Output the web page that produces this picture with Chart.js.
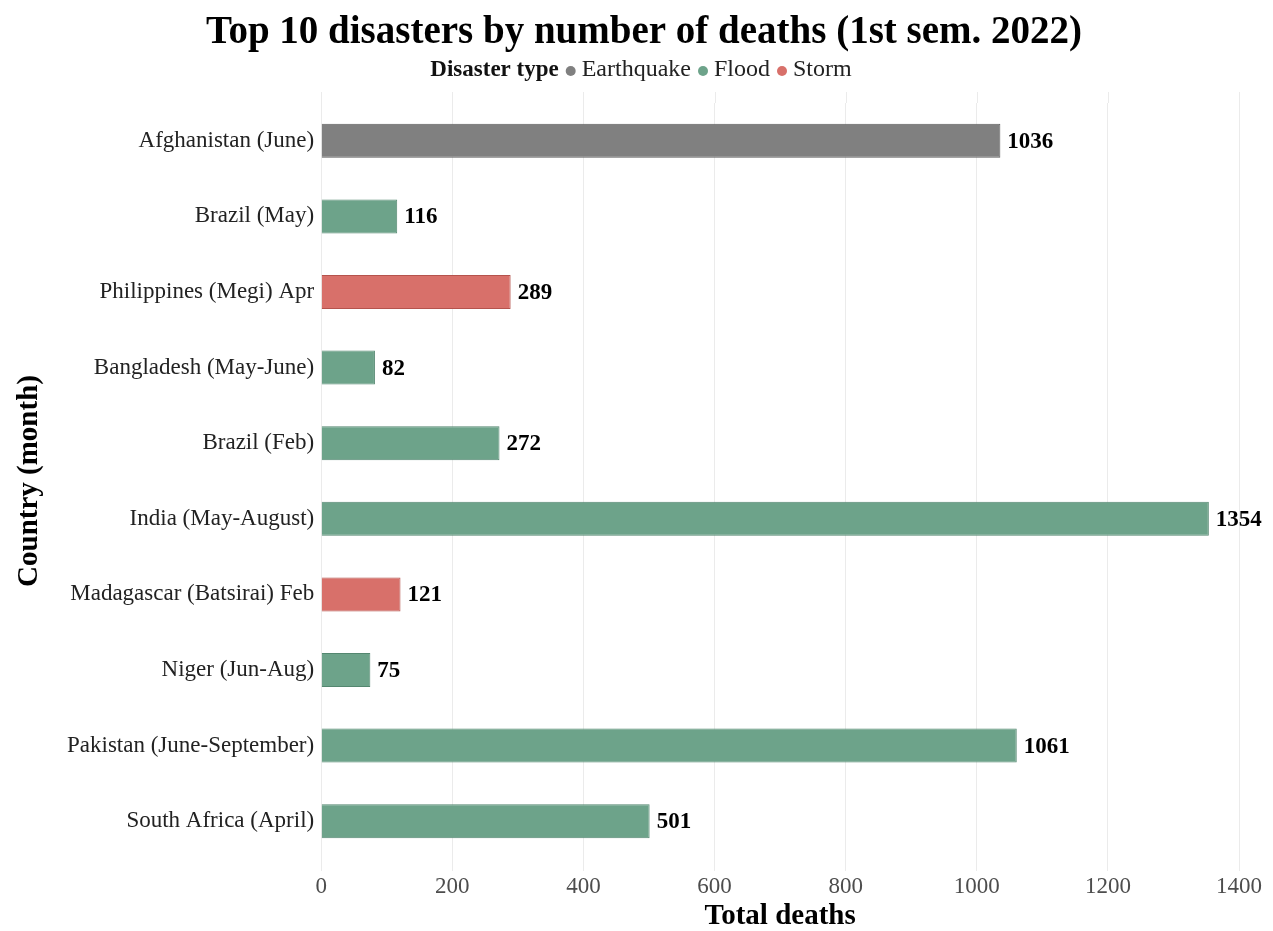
<!DOCTYPE html>
<html>
<head>
<meta charset="utf-8">
<script src="https://cdn.jsdelivr.net/npm/chart.js@4"></script>
<style>
  html, body { margin: 0; padding: 0; background: #fff; }
  #wrap { width: 1273px; height: 931px; position: relative; }
</style>
</head>
<body>
<div id="wrap"><canvas id="c" width="1273" height="931"></canvas></div>
<script>
// Disasters of the first half of 2022, ranked by total deaths
const categories = [
  'Afghanistan (June)',
  'Brazil (May)',
  'Philippines (Megi) Apr',
  'Bangladesh (May-June)',
  'Brazil (Feb)',
  'India (May-August)',
  'Madagascar (Batsirai) Feb',
  'Niger (Jun-Aug)',
  'Pakistan (June-September)',
  'South Africa (April)'
];
const deaths = [1036, 116, 289, 82, 272, 1354, 121, 75, 1061, 501];
const disasterTypes = ['Earthquake', 'Flood', 'Storm', 'Flood', 'Flood', 'Flood', 'Storm', 'Flood', 'Flood', 'Flood'];
const typeOrder = ['Earthquake', 'Flood', 'Storm'];
const xTicks = [0, 200, 400, 600, 800, 1000, 1200, 1400];
const chartTitle = 'Top 10 disasters by number of deaths (1st sem. 2022)';

const typeFill = { Earthquake: '#808080', Flood: '#6da38a', Storm: '#d8706a' };
const typeEdge = { Earthquake: '#5e5e5e', Flood: '#548770', Storm: '#b5534d' };
const SERIF = '"Liberation Serif", "Times New Roman", serif';

// Heading block: title line, then an inline legend (bold heading + dot/label pairs)
const headerBlock = {
  id: 'headerBlock',
  afterDraw(chart) {
    const ctx = chart.ctx;
    const cx = 644;
    ctx.save();
    ctx.textBaseline = 'middle';

    ctx.font = 'bold 39px ' + SERIF;
    ctx.fillStyle = '#000';
    ctx.textAlign = 'center';
    ctx.fillText(chartTitle, cx, 33);
    ctx.textAlign = 'left';

    const y = 70;
    const head = 'Disaster type';
    const headFont = 'bold 23px ' + SERIF;
    const itemFont = '24px ' + SERIF;
    const dotR = 5, beforeDot = 7, afterDot = 6;
    ctx.font = headFont;
    const headW = ctx.measureText(head).width;
    ctx.font = itemFont;
    let total = headW;
    typeOrder.forEach(t => { total += beforeDot + dotR * 2 + afterDot + ctx.measureText(t).width; });
    let x = 641 - total / 2;
    ctx.fillStyle = '#111';
    ctx.font = headFont;
    ctx.fillText(head, x, y);
    x += headW;
    ctx.font = itemFont;
    typeOrder.forEach(t => {
      x += beforeDot;
      ctx.beginPath();
      ctx.arc(x + dotR, y + 1, dotR, 0, Math.PI * 2);
      ctx.fillStyle = typeFill[t];
      ctx.fill();
      x += dotR * 2 + afterDot;
      ctx.fillStyle = '#222';
      ctx.fillText(t, x, y);
      x += ctx.measureText(t).width;
    });
    ctx.restore();
  }
};

// Vertical grid lines reach a little beyond the category bands
const gridExtend = {
  id: 'gridExtend',
  beforeDatasetsDraw(chart) {
    const ctx = chart.ctx, xs = chart.scales.x, area = chart.chartArea;
    ctx.save();
    ctx.strokeStyle = '#ebebeb';
    ctx.lineWidth = 1;
    xTicks.forEach(v => {
      const px = Math.round(xs.getPixelForValue(v)) + 0.5;
      ctx.beginPath();
      ctx.moveTo(px, area.top - 11);
      ctx.lineTo(px, area.top);
      ctx.stroke();
    });
    ctx.restore();
  }
};

// Value labels at the end of each bar
const valueLabels = {
  id: 'valueLabels',
  afterDatasetsDraw(chart) {
    const ctx = chart.ctx;
    const meta = chart.getDatasetMeta(0);
    ctx.save();
    ctx.font = 'bold 23px ' + SERIF;
    ctx.fillStyle = '#000';
    ctx.textBaseline = 'middle';
    ctx.textAlign = 'left';
    meta.data.forEach((bar, i) => {
      ctx.fillText(String(deaths[i]), bar.x + 7, bar.y + 1);
    });
    ctx.restore();
  }
};

new Chart(document.getElementById('c'), {
  type: 'bar',
  data: {
    labels: categories,
    datasets: [{
      data: deaths,
      backgroundColor: disasterTypes.map(t => typeFill[t]),
      borderColor: disasterTypes.map(t => typeEdge[t]),
      borderWidth: 1,
      categoryPercentage: 1,
      barPercentage: 0.45
    }]
  },
  options: {
    indexAxis: 'y',
    responsive: false,
    animation: false,
    layout: { padding: { left: 15, right: 34, top: 103, bottom: 0 } },
    plugins: {
      legend: { display: false },
      tooltip: { enabled: false },
      title: { display: false }
    },
    scales: {
      x: {
        min: 0,
        max: 1400,
        afterBuildTicks(scale) { scale.ticks = xTicks.map(v => ({ value: v })); },
        grid: { color: '#ebebeb', drawTicks: true, tickLength: 12, tickColor: '#ebebeb' },
        border: { display: false },
        ticks: {
          color: '#4d4d4d',
          padding: 4,
          callback: v => String(v),
          font: { family: SERIF, size: 23, lineHeight: 1 }
        },
        title: {
          display: true,
          text: 'Total deaths',
          color: '#000',
          padding: { top: 0, bottom: 0 },
          font: { family: SERIF, size: 29, weight: 'bold', lineHeight: 1 }
        }
      },
      y: {
        grid: { display: false, drawTicks: false },
        border: { display: false },
        ticks: { color: '#222', padding: 7, font: { family: SERIF, size: 23 } },
        title: {
          display: true,
          text: 'Country (month)',
          color: '#000',
          padding: { top: 0, bottom: 16 },
          font: { family: SERIF, size: 29, weight: 'bold', lineHeight: 1 }
        }
      }
    }
  },
  plugins: [headerBlock, gridExtend, valueLabels]
});
</script>
</body>
</html>
